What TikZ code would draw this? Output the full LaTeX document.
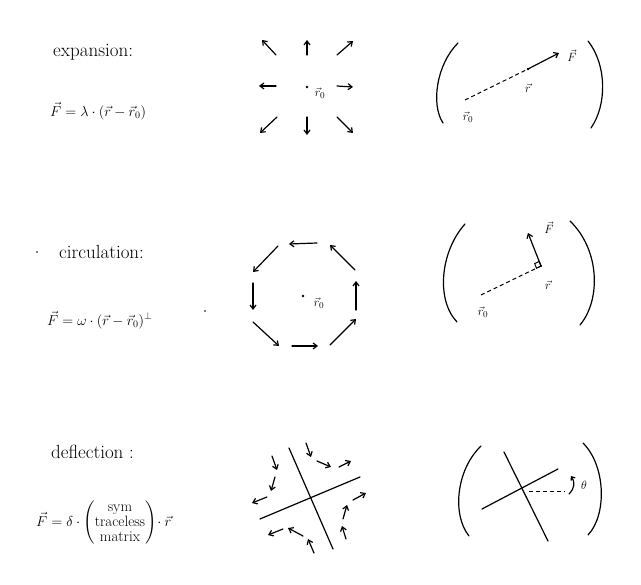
\documentclass[tikz,border=0pt]{standalone}
\usepackage{amsmath}
\usetikzlibrary{arrows.meta}
\begin{document}
\begin{tikzpicture}[x=1pt,y=-1pt,
  ln/.style={line width=1.2pt, line cap=round},
  arr/.style={ln, -{Straight Barb[length=4pt,width=6pt]}},
  dsh/.style={line width=1pt, dash pattern=on 4pt off 3pt},
  lbl/.style={inner sep=0pt, font=\fontsize{13}{15}\selectfont},
  ttl/.style={inner sep=0pt, anchor=west, font=\fontsize{19}{21}\selectfont},
  fml/.style={inner sep=0pt, anchor=west, font=\fontsize{14}{16}\selectfont},
  dotn/.style={circle, fill, inner sep=0pt, minimum size=2.8pt}]
\useasboundingbox (0,0) rectangle (641,585);

% ---------------- row 1: expansion ----------------
\node[ttl] (t1) at (53,52) {expansion:};
\node[fml] (f1) at (50,111) {$\vec F = \lambda\cdot(\vec r-\vec r_0)$};

\node[dotn] (c1) at (307,87) {};
\node[lbl] (c1l) at (320,93) {$\vec r_0$};
\foreach \xa/\ya/\xb/\yb in {276/55/262/40, 307/55/307/40, 337/55/353/41,
  276/86/259/86, 337/86/353/87,
  277/117/260/133, 307/117/307/135, 337/117/353/133}
  \draw[arr] (\xa,\ya) -- (\xb,\yb);

\draw[ln] (458,43) .. controls (436,65) and (431,105) .. (443,123);
\draw[ln] (588,41) .. controls (607,65) and (607,105) .. (591,128);
\coordinate (r0a) at (465,100);
\coordinate (ra) at (528,69);
\coordinate (Fa) at (559,53);
\draw[dsh] (r0a) -- (ra);
\draw[arr] (ra) -- (Fa);
\node[dotn] (rad) at (ra) {};
\node[lbl] (Fal) at (572,56) {$\vec F$};
\node[lbl] (ral) at (528,88) {$\vec r$};
\node[lbl] (r0al) at (468,117) {$\vec r_0$};

% ---------------- row 2: circulation ----------------
\node[dotn, minimum size=1.8pt] (s1) at (37,252) {};
\node[ttl] (t2) at (59,252) {circulation:};
\node[fml] (f2) at (47,320) {$\vec F = \omega\cdot(\vec r-\vec r_0)^{\perp}$};
\node[dotn, minimum size=1.8pt] (s2) at (205,311) {};

\node[dotn] (c2) at (303,296) {};
\node[lbl] (c2l) at (319,303) {$\vec r_0$};
\foreach \xa/\ya/\xb/\yb in {317/243/289/244, 278/246/253/272, 253/283/253/310,
  253/322/279/346, 292/346/318/346, 330/345/356/319,
  356/310/356/281, 355/270/330/245}
  \draw[arr] (\xa,\ya) -- (\xb,\yb);

\draw[ln] (465,224) .. controls (440,252) and (436,300) .. (457,322);
\draw[ln] (570,221) .. controls (600,250) and (601,300) .. (580,325);
\coordinate (r0b) at (481,295);
\coordinate (rb) at (541,266);
\coordinate (Fb) at (528,233);
\draw[dsh] (r0b) -- (rb);
\draw[arr] (rb) -- (Fb);
\draw[line width=1pt] (rb) -- (539.2,261.4) -- (534.7,263.6) -- (536.5,268.2) -- cycle;
\node[dotn, minimum size=2.2pt] (rbd) at (rb) {};
\node[lbl] (Fbl) at (549,228) {$\vec F$};
\node[lbl] (rbl) at (548,285) {$\vec r$};
\node[lbl] (r0bl) at (483,312) {$\vec r_0$};

% ---------------- row 3: deflection ----------------
\node[ttl] (t3) at (51,452) {deflection :};
\node[fml, font=\fontsize{15}{17}\selectfont] (f3) at (36,523)
  {$\vec F = \delta\cdot\begin{pmatrix}\text{sym}\\[-2pt]\text{traceless}\\[-2pt]\text{matrix}\end{pmatrix}\!\cdot\vec r$};

\draw[ln] (289,448) -- (333,549);
\draw[ln] (260,519) -- (360,477);
\foreach \xa/\ya/\xb/\yb in {306/443/311/457, 272/456/277/470, 317/461/331/467,
  339/467/351/461, 275/477/271/491, 267/497/252/503, 353/500/366/493,
  343/519/347/505, 346/539/342/526, 283/529/268/535, 303/536/288/528,
  314/553/308/539}
  \draw[arr] (\xa,\ya) -- (\xb,\yb);

\draw[ln] (481,446) .. controls (456,470) and (452,515) .. (469,536);
\draw[ln] (583,443) .. controls (606,466) and (607,515) .. (588,535);
\coordinate (a1) at (504,452);
\coordinate (a2) at (548,541);
\coordinate (b1) at (482,509);
\coordinate (b2) at (558,469);
\coordinate (xc) at (529,492);
\coordinate (xe) at (565,492);
\draw[ln] (a1) -- (a2);
\draw[ln] (b1) -- (b2);
\draw[dsh] (xc) -- (xe);
\coordinate (th0) at (569,494);
\coordinate (th1) at (571,476);
\draw[ln, -{Straight Barb[length=3pt,width=5pt]}] (th0) .. controls (575,488) and (575,482) .. (th1);
\node[lbl] (thl) at (584,485) {$\theta$};
\end{tikzpicture}
\end{document}
